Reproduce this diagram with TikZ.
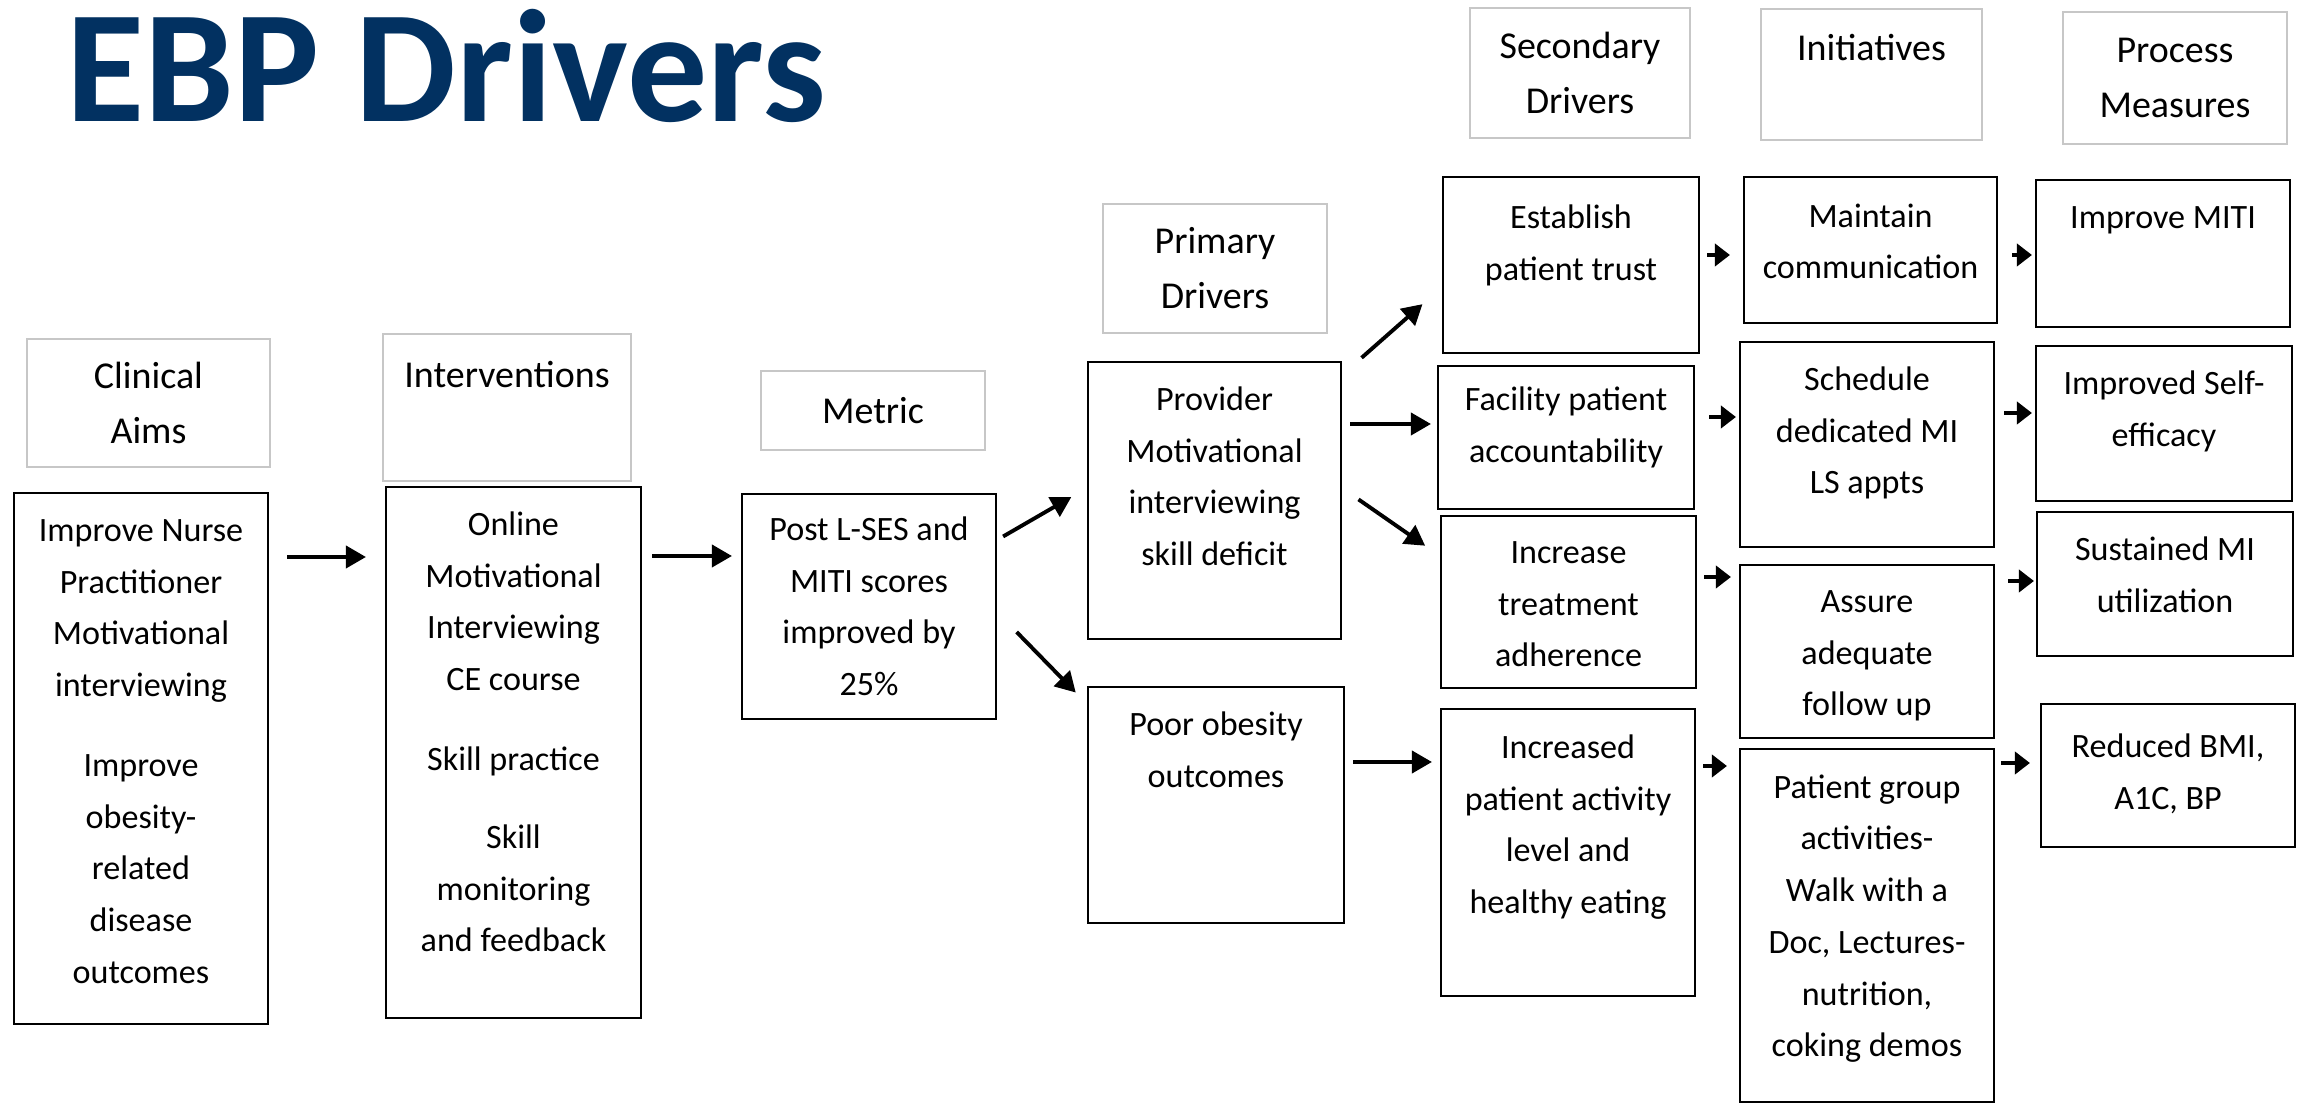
\documentclass[tikz,border=0pt]{standalone}
\usepackage{fontspec}
\setmainfont{Carlito}
\usetikzlibrary{arrows.meta,positioning,fit}
\definecolor{ebpnavy}{RGB}{2,49,97}
\tikzset{
  mainbox/.style={
    draw,
    line width=0.6pt,
    inner sep=0pt
  },
  headbox/.style={
    draw=black!22,
    line width=0.4pt,
    inner sep=0pt
  },
  headtext/.style={
    inner sep=0pt,
    align=center,
    font=\fontsize{10.8}{15.6}\selectfont
  },
  boxtext/.style={
    inner sep=0pt,
    align=center,
    font=\fontsize{9.7}{14.7}\selectfont
  },
  flow/.style={
    line width=1.1pt,
    -{Triangle[length=0.2cm,width=0.22cm]}
  },
  nudge/.style={
    line width=1.3pt,
    -{Triangle[length=0.15cm,width=0.22cm]}
  }
}

\begin{document}
\begin{tikzpicture}[x=0.01cm, y=-0.01cm]
        \useasboundingbox (0,0) rectangle (2300,1104);
        \node[anchor=base west, inner sep=0pt, text=ebpnavy, font=\fontsize{45.5}{50}\selectfont\bfseries] (title) at (66,122) {EBP Drivers};
        % column headers
        \node[headbox, fit={(27,339) (270,467)}] (aims-h) {};
        \node[headbox, fit={(383,334) (631,481)}] (intv-h) {};
        \node[headbox, fit={(761,371) (985,450)}] (metric-h) {};
        \node[headbox, fit={(1103,204) (1327,333)}] (prim-h) {};
        \node[headbox, fit={(1470,8) (1690,138)}] (sec-h) {};
        \node[headbox, fit={(1761,9) (1982,140)}] (init-h) {};
        \node[headbox, fit={(2063,12) (2287,144)}] (proc-h) {};
        \node[headtext] (aims-ht) at (aims-h) {Clinical\\Aims};
        \node[headtext, below=0.27cm of intv-h.north] (intv-ht) {Interventions};
        \node[headtext] (metric-ht) at (metric-h) {Metric};
        \node[headtext] (prim-ht) at (prim-h) {Primary\\Drivers};
        \node[headtext] (sec-ht) at (sec-h) {Secondary\\Drivers};
        \node[headtext, below=0.25cm of init-h.north] (init-ht) {Initiatives};
        \node[headtext] (proc-ht) at (proc-h) {Process\\Measures};
        % boxes
        \node[mainbox, fit={(14,493) (268,1024)}] (aims) {};
        \node[mainbox, fit={(386,487) (641,1018)}] (intv) {};
        \node[mainbox, fit={(742,494) (996,719)}] (metric) {};
        \node[mainbox, fit={(1088,362) (1341,639)}] (provider) {};
        \node[mainbox, fit={(1088,687) (1344,923)}] (poor) {};
        \node[mainbox, fit={(1443,177) (1699,353)}] (trust) {};
        \node[mainbox, fit={(1438,366) (1694,509)}] (account) {};
        \node[mainbox, fit={(1441,516) (1696,688)}] (adhere) {};
        \node[mainbox, fit={(1441,709) (1695,996)}] (activity) {};
        \node[mainbox, fit={(1744,177) (1997,323)}] (maintain) {};
        \node[mainbox, fit={(1740,342) (1994,547)}] (schedule) {};
        \node[mainbox, fit={(1740,565) (1994,738)}] (followup) {};
        \node[mainbox, fit={(1740,749) (1994,1102)}] (groups) {};
        \node[mainbox, fit={(2036,180) (2290,327)}] (miti) {};
        \node[mainbox, fit={(2036,346) (2292,501)}] (selfeff) {};
        \node[mainbox, fit={(2037,512) (2293,656)}] (sustain) {};
        \node[mainbox, fit={(2041,704) (2295,847)}] (bmi) {};
        % box texts
        \node[boxtext, below=0.27cm of aims.north] (aims-t) {Improve Nurse\\Practitioner\\Motivational\\interviewing\\[8pt]Improve\\obesity-\\related\\disease\\outcomes};
        \node[boxtext, below=0.25cm of intv.north] (intv-t) {Online\\Motivational\\Interviewing\\CE course\\[8pt]Skill practice\\[7.5pt]Skill\\monitoring\\and feedback};
        \node[boxtext, below=0.23cm of metric.north] (metric-t) {Post L-SES and\\MITI scores\\improved by\\25\%};
        \node[boxtext, below=0.25cm of provider.north] (provider-t) {Provider\\Motivational\\interviewing\\skill deficit};
        \node[boxtext, below=0.25cm of poor.north] (poor-t) {Poor obesity\\outcomes};
        \node[boxtext, below=0.28cm of trust.north] (trust-t) {Establish\\patient trust};
        \node[boxtext, below=0.21cm of account.north] (account-t) {Facility patient\\accountability};
        \node[boxtext, below=0.26cm of adhere.north] (adhere-t) {Increase\\treatment\\adherence};
        \node[boxtext, below=0.26cm of activity.north] (activity-t) {Increased\\patient activity\\level and\\healthy eating};
        \node[boxtext, below=0.27cm of maintain.north] (maintain-t) {Maintain\\communication};
        \node[boxtext, below=0.25cm of schedule.north] (schedule-t) {Schedule\\dedicated MI\\LS appts};
        \node[boxtext, below=0.26cm of followup.north] (followup-t) {Assure\\adequate\\follow up};
        \node[boxtext, below=0.26cm of groups.north] (groups-t) {Patient group\\activities-\\Walk with a\\Doc, Lectures-\\nutrition,\\coking demos};
        \node[boxtext, below=0.27cm of miti.north] (miti-t) {Improve MITI};
        \node[boxtext, below=0.25cm of selfeff.north] (selfeff-t) {Improved Self-\\efficacy};
        \node[boxtext, below=0.25cm of sustain.north] (sustain-t) {Sustained MI\\utilization};
        \node[boxtext, below=0.30cm of bmi.north] (bmi-t) {Reduced BMI,\\A1C, BP};
        % arrows
        \draw[flow, shorten <=0.18cm, shorten >=0.19cm] (aims.east |- 0,557) -- (intv.west |- 0,557);
        \draw[flow, shorten <=0.10cm, shorten >=0.09cm] (intv.east |- 0,556) -- (metric.west |- 0,556);
        \draw[flow, shorten <=0.07cm, shorten >=0.18cm] (metric.east |- 0,540) -- (provider.west |- 0,488);
        \draw[flow, shorten <=0.28cm, shorten >=0.16cm] (metric.east |- 0,612) -- (poor.west |- 0,704);
        \draw[flow, shorten <=0.26cm, shorten >=0.26cm] (provider.east |- 0,375) -- (trust.west |- 0,287);
        \draw[flow, shorten <=0.08cm, shorten >=0.06cm] (provider.east |- 0,424) -- (account.west |- 0,424);
        \draw[flow, shorten <=0.20cm, shorten >=0.18cm] (provider.east |- 0,488) -- (adhere.west |- 0,556);
        \draw[flow, shorten <=0.08cm, shorten >=0.08cm] (poor.east |- 0,762) -- (activity.west |- 0,762);
        \draw[nudge, shorten <=0.07cm, shorten >=0.13cm] (trust.east |- 0,255) -- (maintain.west |- 0,255);
        \draw[nudge, shorten <=0.14cm, shorten >=0.03cm] (maintain.east |- 0,255) -- (miti.west |- 0,255);
        \draw[nudge, shorten <=0.14cm, shorten >=0.03cm] (account.east |- 0,417) -- (schedule.west |- 0,417);
        \draw[nudge, shorten <=0.09cm, shorten >=0.03cm] (schedule.east |- 0,413) -- (selfeff.west |- 0,413);
        \draw[nudge, shorten <=0.07cm, shorten >=0.08cm] (adhere.east |- 0,577) -- (followup.west |- 0,577);
        \draw[nudge, shorten <=0.13cm, shorten >=0.02cm] (followup.east |- 0,581) -- (sustain.west |- 0,581);
        \draw[nudge, shorten <=0.07cm, shorten >=0.12cm] (activity.east |- 0,766) -- (groups.west |- 0,766);
        \draw[nudge, shorten <=0.06cm, shorten >=0.10cm] (groups.east |- 0,763) -- (bmi.west |- 0,763);
\end{tikzpicture}
\end{document}
